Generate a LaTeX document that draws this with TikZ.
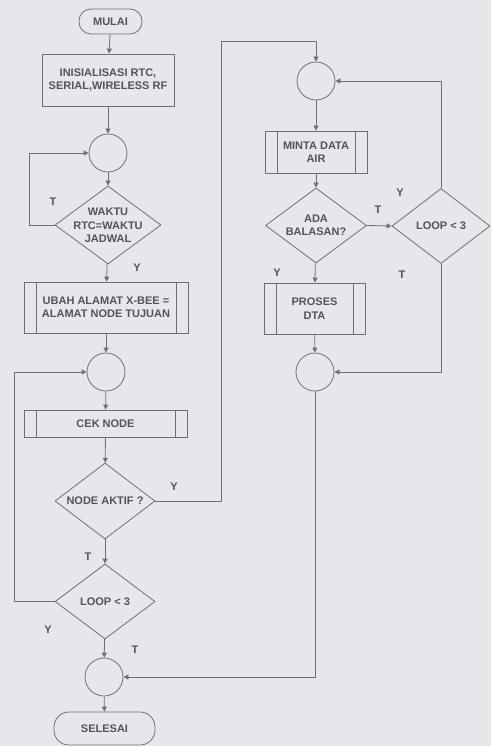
\documentclass[tikz,border=0pt]{standalone}
\usepackage{fontspec}
\setmainfont{Liberation Sans}
\usetikzlibrary{shapes.geometric,arrows.meta}
\definecolor{paper}{RGB}{229,231,235}
\definecolor{ink}{RGB}{112,112,116}
\definecolor{txt}{RGB}{84,84,88}
\tikzset{
  base/.style={draw=ink, line width=0.8pt, text=txt, font=\bfseries\fontsize{11}{13.5}\selectfont, align=center, inner sep=0pt},
  term/.style={base, rectangle, rounded corners=12pt},
  procbox/.style={base, rectangle},
  subproc/.style={base, rectangle, append after command={
      \pgfextra{\draw[draw=ink, line width=0.8pt]
        ([xshift=12.5pt]\tikzlastnode.north west) -- ([xshift=12.5pt]\tikzlastnode.south west)
        ([xshift=-12.5pt]\tikzlastnode.north east) -- ([xshift=-12.5pt]\tikzlastnode.south east);}}},
  conn/.style={base, circle, minimum size=38pt},
  dec/.style={base, diamond},
  dtext/.style={text=txt, font=\bfseries\fontsize{11}{13.5}\selectfont, align=center, inner sep=0pt},
  lbl/.style={text=txt, font=\bfseries\fontsize{11}{13}\selectfont, inner sep=0pt},
  arr/.style={draw=ink, line width=0.8pt, -{Triangle[length=5pt,width=5pt]}},
  ln/.style={draw=ink, line width=0.8pt}
}
\begin{document}
\begin{tikzpicture}[x=1pt,y=-1pt]
\fill[paper] (0,0) rectangle (491,746);
\useasboundingbox (0,0) rectangle (491,746);

% left column
\node[term, minimum width=63pt, minimum height=25pt] (mulai) at (110.5,21.5) {MULAI};
\node[procbox, minimum width=132pt, minimum height=52pt] (init) at (108,80) {INISIALISASI RTC,\\SERIAL,WIRELESS RF};
\node[conn] (c1) at (108,153) {};
\node[dec, minimum width=106pt, minimum height=78pt] (d1) at (108,225) {};
\node[dtext] (d1t) at (108,225.5) {WAKTU\\RTC=WAKTU\\JADWAL};
\node[subproc, minimum width=164pt, minimum height=51pt] (ubah) at (106,307.5) {UBAH ALAMAT X-BEE =\\ALAMAT NODE TUJUAN};
\node[conn] (c2) at (106,372) {};
\node[subproc, minimum width=163pt, minimum height=27pt] (cek) at (105.5,423.5) {CEK NODE};
\node[dec, minimum width=100pt, minimum height=76pt] (d2) at (105,501) {};
\node[dtext] (d2t) at (105,501) {NODE AKTIF ?};
\node[dec, minimum width=100pt, minimum height=75pt] (d3) at (105,601.5) {};
\node[dtext] (d3t) at (105,601.5) {LOOP < 3};
\node[conn] (c4) at (104,677) {};
\node[term, minimum width=101pt, minimum height=33pt, rounded corners=15pt] (selesai) at (104.5,728.5) {SELESAI};

% right column
\node[conn] (c3) at (316,81) {};
\node[subproc, minimum width=102pt, minimum height=42pt] (minta) at (316,152) {MINTA DATA\\AIR};
\node[dec, minimum width=101pt, minimum height=75pt] (d4) at (316,225.5) {};
\node[dtext] (d4t) at (316,225.5) {ADA\\BALASAN?};
\node[dec, minimum width=98pt, minimum height=75pt] (d5) at (441,226) {};
\node[dtext] (d5t) at (441,226) {LOOP < 3};
\node[subproc, minimum width=101pt, minimum height=51pt] (proses) at (314.5,308.5) {PROSES\\DTA};
\node[conn] (c5) at (315,372) {};

\coordinate (k1) at (221,41);
\coordinate (k2) at (29,225);
\coordinate (k3) at (14,601.5);

% connectors left
\draw[arr] (mulai) -- (init);
\draw[arr] (init) -- (c1);
\draw[arr] (c1) -- (d1);
\draw[arr] (d1.west) -- (k2) |- (c1.west);
\draw[arr] (d1) -- (ubah);
\draw[arr] (ubah) -- (c2);
\draw[arr] (c2) -- (cek);
\draw[arr] (cek) -- (d2);
\draw[arr] (d2.east) -| (k1) -| (c3.north);
\draw[arr] (d2) -- (d3);
\draw[arr] (d3.west) -- (k3) |- (c2.west);
\draw[arr] (d3) -- (c4);
\draw[arr] (c4) -- (selesai);

% connectors right
\draw[arr] (c3) -- (minta);
\draw[arr] (minta) -- (d4);
\draw[arr] (d4.east) -- (d5.west);
\draw[arr] (d4) -- (proses);
\draw[arr] (proses) -- (c5);
\draw[arr] (d5.north) |- (c3.east);
\draw[arr] (d5.south) |- (c5.east);
\draw[arr] (c5.south) |- (c4.east);

% labels
\node[lbl] (l1) at (53,202) {T};
\node[lbl] (l2) at (137,268) {Y};
\node[lbl] (l3) at (174,487) {Y};
\node[lbl] (l4) at (88,557) {T};
\node[lbl] (l5) at (48,630) {Y};
\node[lbl] (l6) at (135,650) {T};
\node[lbl] (l7) at (378,210) {T};
\node[lbl] (l8) at (400,193) {Y};
\node[lbl] (l9) at (277,273) {Y};
\node[lbl] (l10) at (402,275) {T};
\end{tikzpicture}
\end{document}
